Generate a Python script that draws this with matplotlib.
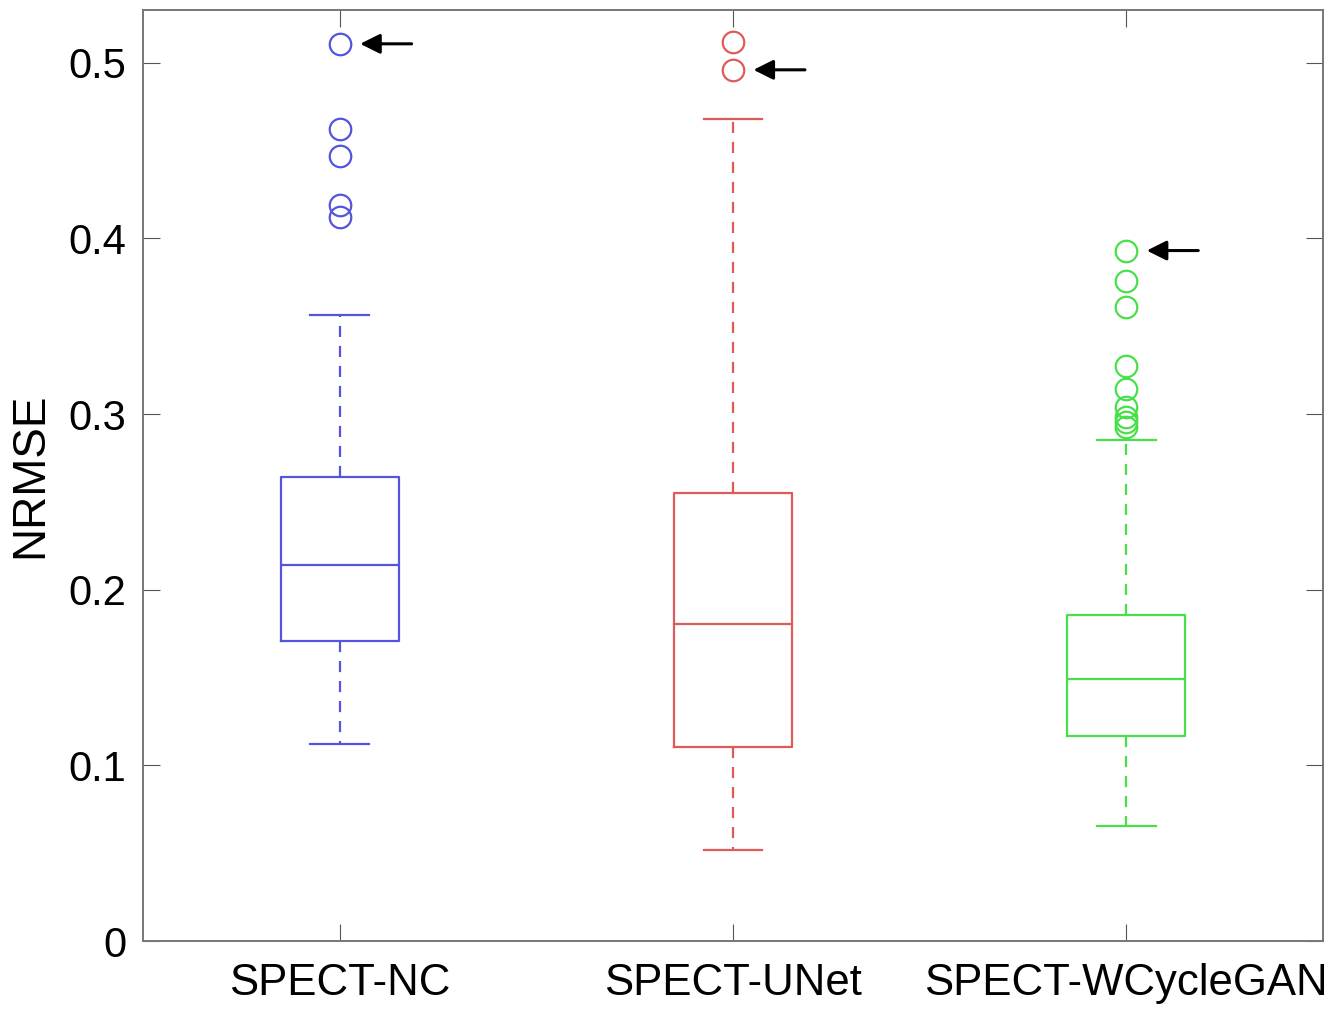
import numpy as np
import matplotlib.pyplot as plt

plt.rcParams['font.family'] = ['Liberation Sans', 'DejaVu Sans']

# Data ------------------------------------------------------------------------

labels = ['SPECT-NC', 'SPECT-UNet', 'SPECT-WCycleGAN']
colors = ['#5454e0', '#e05a5a', '#48e048']

q1 = [0.1708, 0.1105, 0.1167]
med = [0.2141, 0.1805, 0.1492]
q3 = [0.2642, 0.2551, 0.1856]
whislo = [0.1122, 0.0518, 0.0655]
whishi = [0.3565, 0.4681, 0.2853]

fliers = [
    [0.5108, 0.4623, 0.4467, 0.4191, 0.4123],
    [0.5116, 0.4960],
    [0.3931, 0.3755, 0.3609, 0.3271, 0.3142, 0.3043, 0.2986, 0.2957, 0.2929],
]

# outlier pointed at by an arrow, per group
arrow_y = [0.5108, 0.4960, 0.3931]

# Figure ----------------------------------------------------------------------

fig = plt.figure(figsize=(13.42, 10.10), dpi=100)
ax = fig.add_axes([0.1066, 0.0683, 0.8792, 0.9217])

pos = np.arange(1, len(labels) + 1)

for i in range(len(labels)):
    st = dict(q1=q1[i], med=med[i], q3=q3[i], whislo=whislo[i],
              whishi=whishi[i], fliers=fliers[i], label=labels[i])
    c = colors[i]
    ax.bxp([st], positions=[pos[i]], widths=0.3, showfliers=True,
           boxprops=dict(color=c, lw=1.6),
           medianprops=dict(color=c, lw=1.6),
           whiskerprops=dict(color=c, lw=1.6, ls=(0, (5, 4))),
           capprops=dict(color=c, lw=1.6),
           capwidths=0.15,
           flierprops=dict(marker='o', mfc='none', mec=c, ms=15.5, mew=1.6))

for i in range(len(labels)):
    ax.annotate('', xy=(pos[i] + 0.045, arrow_y[i]),
                xytext=(pos[i] + 0.19, arrow_y[i]),
                arrowprops=dict(arrowstyle='-|>', color='black', lw=2.2,
                                mutation_scale=30))

ax.set_xlim(0.5, 3.5)
ax.set_ylim(0, 0.53)
ax.set_yticks([0, 0.1, 0.2, 0.3, 0.4, 0.5])
ax.set_yticklabels(['0', '0.1', '0.2', '0.3', '0.4', '0.5'])
ax.set_xticks(pos)
ax.set_xticklabels(labels)
ax.tick_params(axis='y', labelsize=30, direction='in', length=12,
               right=True, pad=12, color='#555555')
ax.tick_params(axis='x', labelsize=31.5, direction='in', length=12,
               top=True, pad=16, color='#555555')
ax.set_ylabel('NRMSE', fontsize=33, labelpad=12)
for s in ax.spines.values():
    s.set_color('#777777')
    s.set_linewidth(1.4)

fig.savefig('out.png', dpi=100)
